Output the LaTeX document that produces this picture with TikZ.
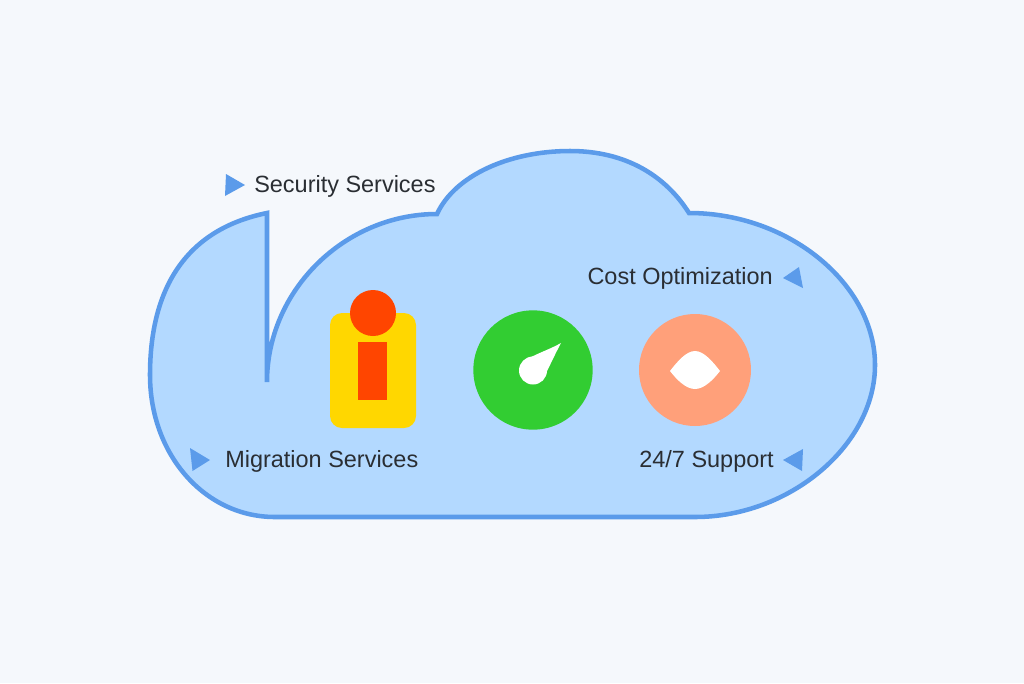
\documentclass[tikz,border=0pt]{standalone}
\usepackage{fontspec}
\setmainfont{Liberation Sans}
\definecolor{pagebg}{HTML}{F5F8FC}
\definecolor{cloudfill}{HTML}{B3D9FF}
\definecolor{cloudline}{HTML}{5B9BEA}
\definecolor{inktext}{HTML}{2A2E33}
\definecolor{lockgold}{HTML}{FFD700}
\definecolor{lockred}{HTML}{FF4500}
\definecolor{gaugegreen}{HTML}{32CD32}
\definecolor{eyepeach}{HTML}{FFA07A}
\begin{document}
\begin{tikzpicture}[x=0.75pt,y=-0.75pt,
  cloud/.style={draw=cloudline,fill=cloudfill,line width=3.4pt,line join=miter},
  marker/.style={fill=cloudline},
  service/.style={text=inktext,inner sep=0pt,font=\fontsize{17.6}{20}\selectfont},
  serviceL/.style={service,anchor=base west},
  serviceR/.style={service,anchor=base east},
  disc/.style={shape=circle,inner sep=0pt}]
\fill[pagebg,use as bounding box] (0,0) rectangle (1024,683);

\draw[cloud] (267,382) .. controls (267,290) and (345,214) .. (437,214)
  .. controls (455,175) and (510,151) .. (570,151)
  .. controls (625,151) and (665,175) .. (689,213)
  .. controls (790,213) and (875,285) .. (875,365)
  .. controls (875,445) and (790,517) .. (695,517)
  -- (275,517)
  .. controls (205,517) and (150,455) .. (150,375)
  .. controls (150,292) and (183,230) .. (267,213) -- cycle;

% lock
\node[fill=lockgold,minimum width=64.5pt,minimum height=86.25pt,inner sep=0pt,rounded corners=9pt] (lock) at (373,370.5) {};
\node[disc,fill=lockred,minimum size=34.5pt] (shackle) at (373,313) {};
\node[fill=lockred,minimum width=21.75pt,minimum height=43.5pt,inner sep=0pt] (keyhole) at (372.5,371) {};

% gauge
\node[disc,fill=gaugegreen,minimum size=89.5pt] (gauge) at (533,370) {};
\node[disc,fill=white,minimum size=21pt] (hub) at (533,370.5) {};
\fill[white] (561,343) .. controls (549,350) and (534,354) .. (523,362)
  -- (542,381) .. controls (547,372) and (553,358) .. (561,343) -- cycle;

% eye
\node[disc,fill=eyepeach,minimum size=84pt] (eye) at (695,370) {};
\fill[white] (670,371) .. controls (677,362) and (686,351) .. (695,351)
  .. controls (704,351) and (713,362) .. (720,371)
  .. controls (713,380) and (704,389) .. (695,389)
  .. controls (686,389) and (677,380) .. (670,371) -- cycle;

\fill[marker] (226,174) -- (245,185) -- (225,196) -- cycle;
\node[serviceL] (security) at (254,192) {Security Services};

\fill[marker] (190,448) -- (210,460) -- (192.5,471) -- cycle;
\node[serviceL] (migration) at (225,467) {Migration Services};

\fill[marker] (783,278) -- (799,267) -- (803,288) -- cycle;
\node[serviceR] (cost) at (773,284) {Cost Optimization};

\fill[marker] (783,460) -- (803,449) -- (802,471) -- cycle;
\node[serviceR] (support) at (774,467) {24/7 Support};
\end{tikzpicture}
\end{document}
